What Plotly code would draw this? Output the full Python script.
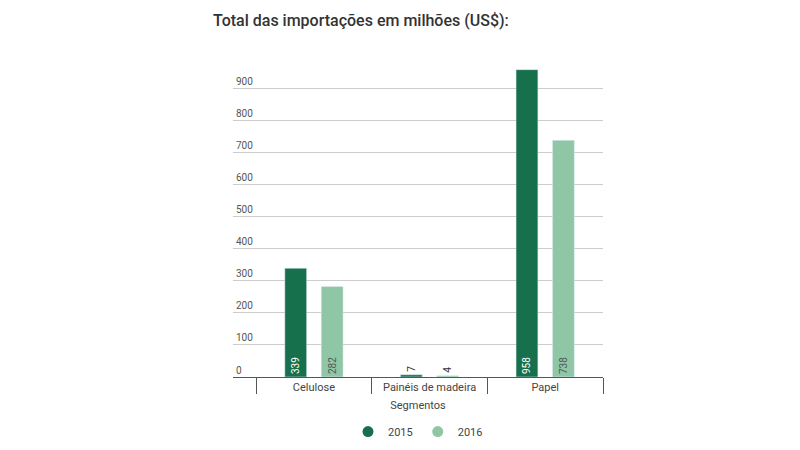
import plotly.graph_objects as go

categories = ["Celulose", "Painéis de madeira", "Papel"]
v2015 = [339, 7, 958]
v2016 = [282, 4, 738]
yticks = [0, 100, 200, 300, 400, 500, 600, 700, 800, 900]
c15, c16 = "#17704c", "#8fc7a6"

fig = go.Figure()
fig.add_bar(name="2015", x=categories, y=v2015, marker_color=c15, showlegend=False,
            text=[str(v) for v in v2015], textposition="auto", textangle=-90,
            insidetextanchor="start", textfont=dict(size=10, color="#ffffff"),
            outsidetextfont=dict(size=10, color="#333333"), cliponaxis=False)
fig.add_bar(name="2016", x=categories, y=v2016, marker_color=c16, showlegend=False,
            text=[str(v) for v in v2016], textposition="auto", textangle=-90,
            insidetextanchor="start", textfont=dict(size=10, color="#555555"),
            outsidetextfont=dict(size=10, color="#333333"), cliponaxis=False)
for name, col in [("2015", c15), ("2016", c16)]:
    fig.add_scatter(x=[None], y=[None], mode="markers", name=name,
                    marker=dict(symbol="circle", size=11, color=col))

fig.update_layout(
    width=800, height=450, barmode="group", bargap=0.37, bargroupgap=0.4,
    plot_bgcolor="white", paper_bgcolor="white",
    font=dict(family="Roboto", color="#444444"),
    margin=dict(l=225, r=205, t=61, b=81, autoexpand=False),
    title=dict(text="Total das importações em milhões (US$):", x=205/800, xanchor="left",
               y=0.985, yanchor="top", font=dict(size=16, color="#333333", weight=500)),
    legend=dict(orientation="h", x=0.5, xanchor="center", y=-0.13, yanchor="top",
                font=dict(size=11)),
)
fig.update_xaxes(range=[-0.7, 2.5], showline=True, linecolor="#555555", ticks="outside",
                 tickson="boundaries", ticklen=16, tickcolor="#555555", automargin=False,
                 tickfont=dict(size=11), title=dict(text="Segmentos", font=dict(size=11), standoff=8))
fig.update_yaxes(range=[0, 960], tickvals=yticks, ticklabelposition="inside top", automargin=False,
                 gridcolor="#cccccc", tickfont=dict(size=10, color="#555555"),
                 zeroline=False, showline=False)
fig.write_html("out.html")
